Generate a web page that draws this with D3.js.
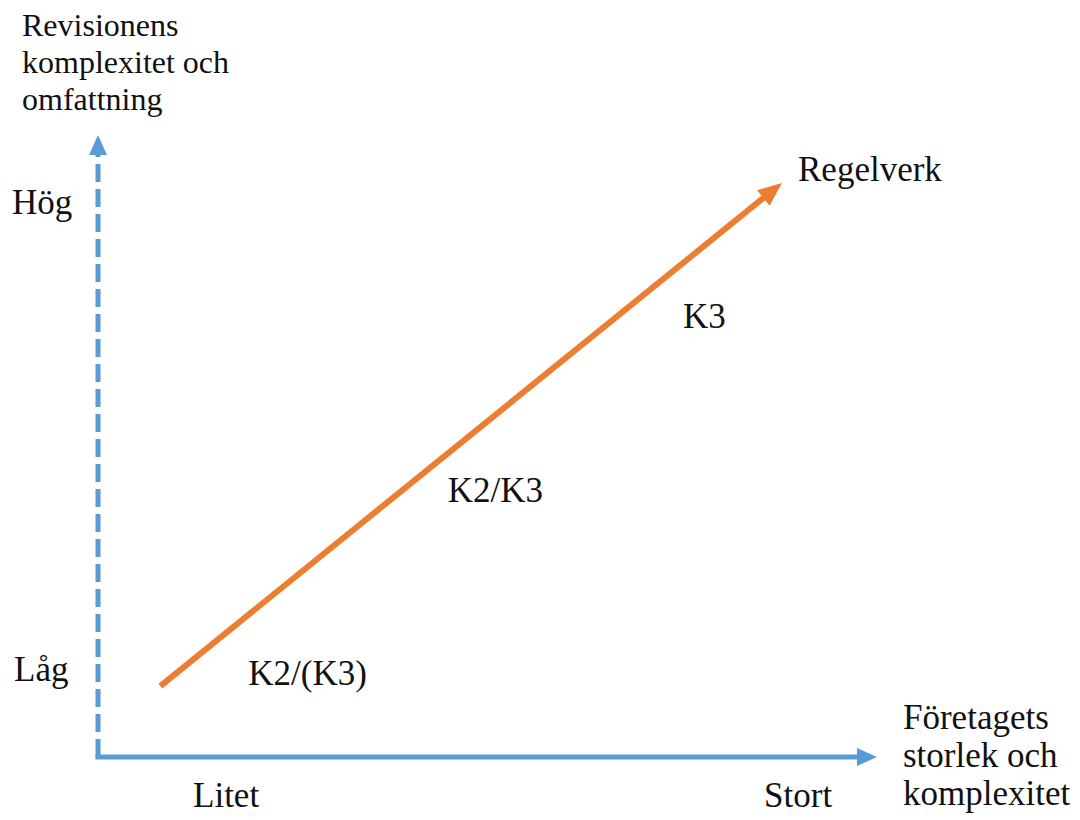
<!DOCTYPE html>
<html>
<head>
<meta charset="utf-8">
<script src="https://cdn.jsdelivr.net/npm/d3@7"></script>
<style>
  html, body { margin: 0; padding: 0; background: #fff; }
  svg { display: block; }
  svg text { font-family: "Liberation Serif", "Times New Roman", serif; fill: #111; }
</style>
</head>
<body>
<svg id="chart"></svg>
<script>
// axis endpoints in concept units (0..10 on both axes)
const xLevels = ['Litet', 'Stort'];
const xLevelPos = [1.22, 8.55];
const yLevels = ['Låg', 'Hög'];
const yLevelPos = [1.4, 8.9];

// the trend arrow: from small/low to large/high
const trendX = [0.8, 8.78];
const trendY = [1.14, 9.23];

// accounting regimes along the arrow
const regimes = ['K2/(K3)', 'K2/K3', 'K3'];
const regimeX = [1.93, 4.49, 7.51];
const regimeY = [1.16, 4.1, 6.9];

const yTitle = ['Revisionens', 'komplexitet och', 'omfattning'];
const xTitle = ['Företagets', 'storlek och', 'komplexitet'];
const trendTitle = 'Regelverk';

const width = 1080;
const height = 820;
const blue = '#5b9bd5';
const orange = '#ed7d31';
const fontSize = 35;

const svg = d3.select('#chart')
  .attr('width', width)
  .attr('height', height);

const x = d3.scaleLinear().domain([0, 10]).range([98, 877]);
const y = d3.scaleLinear().domain([0, 10]).range([757, 135]);

const arrowHead = (tip, dir, len, half) => {
  // dir is a unit vector pointing toward the tip
  const bx = tip[0] - dir[0] * len;
  const by = tip[1] - dir[1] * len;
  const px = -dir[1], py = dir[0];
  return [[tip[0], tip[1]], [bx + px * half, by + py * half], [bx - px * half, by - py * half]];
};

// Y axis (dashed, drawn from the corner upward)
svg.append('line')
  .attr('x1', x(0)).attr('y1', y(0))
  .attr('x2', x(0)).attr('y2', y(10) + 18)
  .attr('stroke', blue)
  .attr('stroke-width', 5)
  .attr('stroke-dasharray', '18 7');

svg.append('polygon')
  .attr('points', arrowHead([x(0), y(10)], [0, -1], 20, 9).join(' '))
  .attr('fill', blue);

// X axis
svg.append('line')
  .attr('x1', x(0) - 2.5).attr('y1', y(0))
  .attr('x2', x(10) - 18).attr('y2', y(0))
  .attr('stroke', blue)
  .attr('stroke-width', 5);

svg.append('polygon')
  .attr('points', arrowHead([x(10), y(0)], [1, 0], 20, 9).join(' '))
  .attr('fill', blue);

// Trend arrow
const x0 = x(trendX[0]), y0 = y(trendY[0]);
const x1 = x(trendX[1]), y1 = y(trendY[1]);
const len = Math.hypot(x1 - x0, y1 - y0);
const dir = [(x1 - x0) / len, (y1 - y0) / len];
const headLen = 24;

svg.append('line')
  .attr('x1', x0).attr('y1', y0)
  .attr('x2', x1 - dir[0] * (headLen - 4)).attr('y2', y1 - dir[1] * (headLen - 4))
  .attr('stroke', orange)
  .attr('stroke-width', 6);

svg.append('polygon')
  .attr('points', arrowHead([x1, y1], dir, headLen, 10).join(' '))
  .attr('fill', orange);

// axis level labels
svg.selectAll('.xlevel')
  .data(xLevels)
  .enter()
  .append('text')
  .attr('class', 'xlevel')
  .attr('x', (d, i) => x(xLevelPos[i]))
  .attr('y', 807)
  .attr('font-size', fontSize)
  .text(d => d);

svg.selectAll('.ylevel')
  .data(yLevels)
  .enter()
  .append('text')
  .attr('class', 'ylevel')
  .attr('x', (d, i) => i === 0 ? 14 : 12)
  .attr('y', (d, i) => y(yLevelPos[i]) + 11)
  .attr('font-size', fontSize)
  .text(d => d);

// regime labels
svg.selectAll('.regime')
  .data(regimes)
  .enter()
  .append('text')
  .attr('class', 'regime')
  .attr('x', (d, i) => x(regimeX[i]))
  .attr('y', (d, i) => y(regimeY[i]))
  .attr('font-size', fontSize)
  .text(d => d);

// titles
svg.append('text')
  .attr('x', 798)
  .attr('y', 181)
  .attr('font-size', fontSize)
  .text(trendTitle);

svg.append('text')
  .attr('x', 22)
  .attr('y', 36)
  .attr('font-size', 32)
  .selectAll('tspan')
  .data(yTitle)
  .enter()
  .append('tspan')
  .attr('x', 22)
  .attr('dy', (d, i) => i === 0 ? 0 : 37)
  .text(d => d);

svg.append('text')
  .attr('x', 903)
  .attr('y', 729)
  .attr('font-size', fontSize)
  .selectAll('tspan')
  .data(xTitle)
  .enter()
  .append('tspan')
  .attr('x', 903)
  .attr('dy', (d, i) => i === 0 ? 0 : 38)
  .text(d => d);
</script>
</body>
</html>
